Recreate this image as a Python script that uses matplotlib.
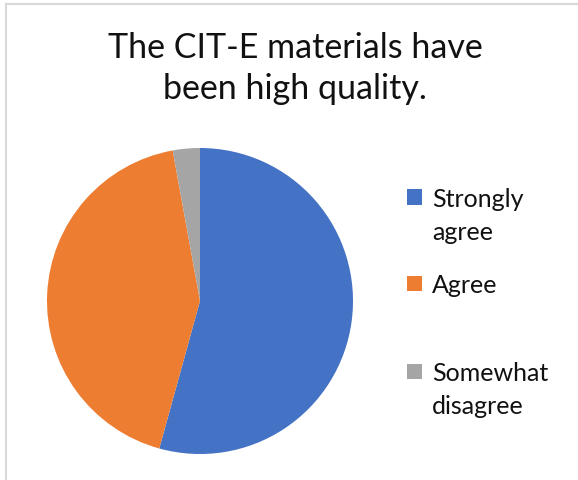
import matplotlib.pyplot as plt
from matplotlib.patches import Rectangle
from matplotlib.lines import Line2D

plt.rcParams['font.family'] = ['Lato', 'DejaVu Sans']

labels = ['Strongly\nagree', 'Agree', 'Somewhat\ndisagree']
counts = [19, 15, 1]
colors = ['#4472C4', '#ED7D31', '#A5A5A5']
title = 'The CIT-E materials have\nbeen high quality.'

W, H = 578, 481
fig = plt.figure(figsize=(W / 100, H / 100), dpi=100)

# frame of the chart area (only top and left edges visible)
fig.add_artist(Line2D([6 / W, 1], [1 - 5 / H, 1 - 5 / H], color='#d9d9d9', lw=1.5))
fig.add_artist(Line2D([6 / W, 6 / W], [0, 1 - 5 / H], color='#d9d9d9', lw=1.5))

# pie: centre (200, 302), radius 153 px
cx, cy, r = 200, 302, 153
ax = fig.add_axes([(cx - r) / W, (H - cy - r) / H, 2 * r / W, 2 * r / H])
ax.pie(counts, colors=colors, startangle=90, counterclock=False,
       radius=1, wedgeprops=dict(linewidth=0))
ax.set_xlim(-1, 1)
ax.set_ylim(-1, 1)
ax.set_aspect('equal')
ax.axis('off')

fig.text(295 / W, 1 - 32 / H, title, ha='center', va='top', fontsize=24.5,
         color='#111111', linespacing=1.33)

# legend drawn by hand, like Excel lays it out
marker_y = [198, 284, 372]
for lab, col, my in zip(labels, colors, marker_y):
    fig.add_artist(Rectangle((407 / W, 1 - (my + 7.5) / H), 15 / W, 15 / H,
                             transform=fig.transFigure, color=col, lw=0))
    fig.text(432 / W, 1 - (my - 10) / H, lab, ha='left', va='top',
             fontsize=18, color='#111111', linespacing=1.5)

fig.savefig('out.png', dpi=100)
